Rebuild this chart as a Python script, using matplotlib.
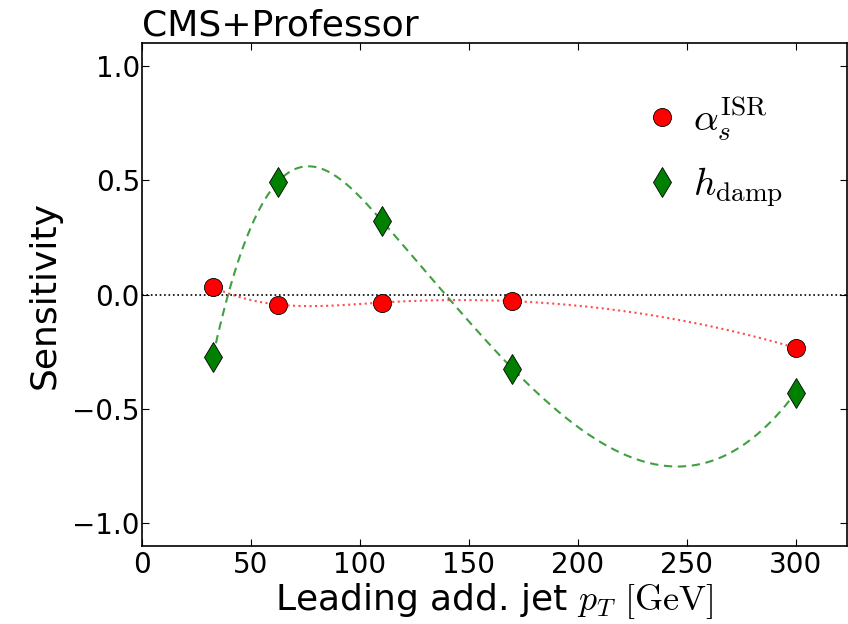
#! /usr/bin/env python3
# -*- coding: utf-8 -*-

import numpy as np
import matplotlib
matplotlib.use("Agg")
import matplotlib.pyplot as plt

## Data

pt_bins = [32.5, 62.5, 110, 170, 300]
sens_alphas = [0.033, -0.044, -0.035, -0.029, -0.233]
sens_hdamp = [-0.273, 0.495, 0.324, -0.324, -0.43]

x_ticks = [0, 50, 100, 150, 200, 250, 300]
y_ticks = [-1.0, -0.5, 0.0, 0.5, 1.0]


## Cubic spline (not-a-knot) through the points

def spline(x, y, xs):
    x = np.asarray(x, float)
    y = np.asarray(y, float)
    n = len(x) - 1
    A = np.zeros((4 * n, 4 * n))
    b = np.zeros(4 * n)
    r = 0
    for i in range(n):
        h = x[i + 1] - x[i]
        A[r, 4 * i] = 1.0
        b[r] = y[i]
        r += 1
        A[r, 4 * i:4 * i + 4] = [1.0, h, h ** 2, h ** 3]
        b[r] = y[i + 1]
        r += 1
    for i in range(n - 1):
        h = x[i + 1] - x[i]
        # first derivative
        A[r, 4 * i:4 * i + 4] = [0.0, 1.0, 2 * h, 3 * h ** 2]
        A[r, 4 * (i + 1) + 1] = -1.0
        r += 1
        # second derivative
        A[r, 4 * i:4 * i + 4] = [0.0, 0.0, 2.0, 6 * h]
        A[r, 4 * (i + 1) + 2] = -2.0
        r += 1
    # not-a-knot ends
    A[r, 3] = 1.0
    A[r, 7] = -1.0
    r += 1
    A[r, 4 * (n - 2) + 3] = 1.0
    A[r, 4 * (n - 1) + 3] = -1.0
    c = np.linalg.solve(A, b).reshape(n, 4)
    idx = np.clip(np.searchsorted(x, xs) - 1, 0, n - 1)
    t = xs - x[idx]
    cc = c[idx]
    return cc[:, 0] + cc[:, 1] * t + cc[:, 2] * t ** 2 + cc[:, 3] * t ** 3


## Main

def main():
    plt.rcParams["mathtext.fontset"] = "cm"
    plt.rcParams["font.family"] = ["DejaVu Sans"]

    fig = plt.figure(figsize=(8.48, 6.24), dpi=100)
    ax = fig.add_axes([0.1675, 0.1255, 0.831, 0.805])

    xs = np.linspace(pt_bins[0], pt_bins[-1], 400)
    curve_a = spline(pt_bins, sens_alphas, xs)
    curve_h = spline(pt_bins, sens_hdamp, xs)

    ax.axhline(0.0, color="black", linestyle=":", linewidth=1.2)
    ax.plot(xs, curve_a, color="red", linestyle=":", linewidth=1.5, alpha=0.7)
    ax.plot(xs, curve_h, color="green", linestyle=(0, (4, 2.7)), linewidth=1.5,
            alpha=0.75)

    ax.plot(pt_bins, sens_alphas, "o", color="red", markeredgecolor="black",
            markeredgewidth=0.6, markersize=13, linestyle="none",
            label=r"$\alpha_s^{\rm ISR}$")
    ax.plot(pt_bins, sens_hdamp, "d", color="green", markeredgecolor="black",
            markeredgewidth=0.6, markersize=15, linestyle="none",
            label=r"$h_{\rm damp}$")

    ax.set_xlim(0, 323.5)
    ax.set_ylim(-1.1, 1.1)
    ax.set_xticks(x_ticks)
    ax.set_yticks(y_ticks)
    ax.tick_params(direction="in", top=True, right=True, labelsize=20, length=5)
    ax.tick_params(axis="x", pad=4)
    ax.tick_params(axis="y", pad=1.5)
    for s in ax.spines.values():
        s.set_linewidth(1.2)

    ax.set_xlabel(r"Leading add. jet $p_T\ [\mathrm{GeV}]$", fontsize=26, labelpad=1)
    ax.set_ylabel("Sensitivity", fontsize=26, labelpad=8)
    ax.set_title("CMS+Professor", loc="left", fontsize=26, pad=6)

    ax.legend(loc="upper right", bbox_to_anchor=(0.96, 0.97), frameon=False,
              numpoints=1, fontsize=28, handlelength=1.0, handletextpad=0.3,
              labelspacing=0.6)

    fig.savefig("out.png", dpi=100)


## Run

if __name__ == "__main__":
    main()
